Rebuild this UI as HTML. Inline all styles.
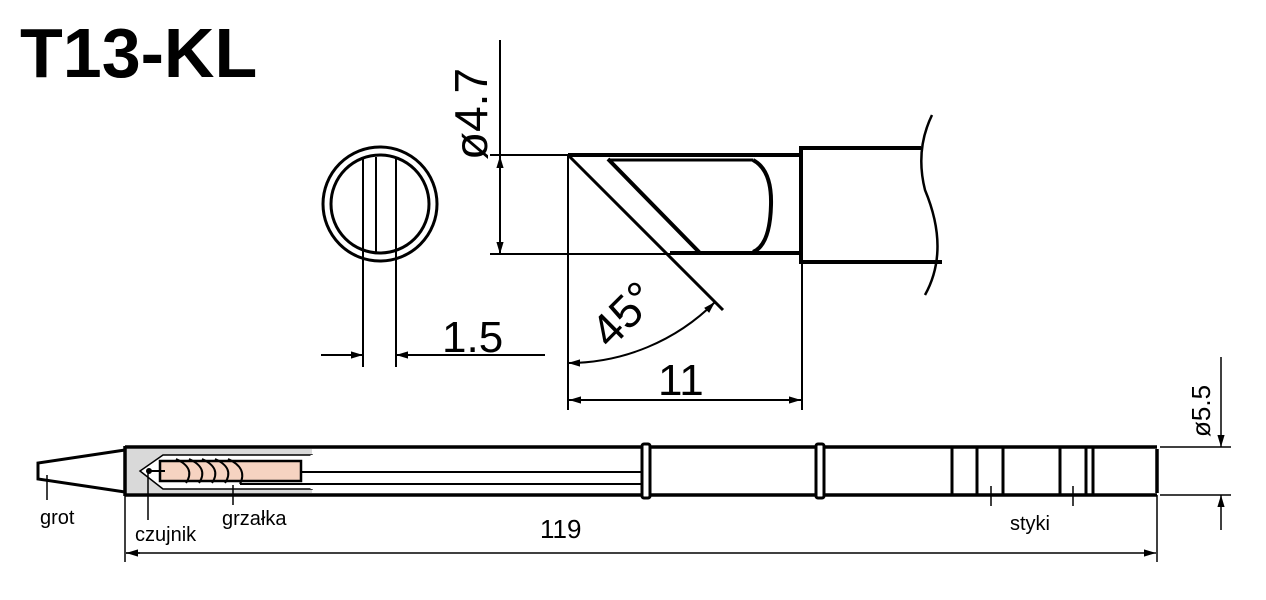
<!DOCTYPE html>
<html><head><meta charset="utf-8"><style>
html,body{margin:0;padding:0;background:#fff;}
svg{display:block;}
text{font-family:"Liberation Sans",sans-serif;fill:#000;}
</style></head><body>
<svg width="1266" height="600" viewBox="0 0 1266 600" xmlns="http://www.w3.org/2000/svg">
<defs>
<marker id="a" viewBox="0 0 10 10" refX="10" refY="5" markerWidth="12" markerHeight="12" markerUnits="userSpaceOnUse" orient="auto-start-reverse"><path d="M0,2 L10,5 L0,8 Z" fill="#000"/></marker>
</defs>
<text x="20" y="77" font-size="70" font-weight="bold">T13-KL</text>

<!-- circle end view -->
<g fill="none" stroke="#000">
<circle cx="380" cy="204" r="57" stroke-width="3"/>
<circle cx="380" cy="204" r="49" stroke-width="3"/>
<line x1="363" y1="157" x2="363" y2="367" stroke-width="2"/>
<line x1="396" y1="157" x2="396" y2="367" stroke-width="2"/>
<line x1="376" y1="157" x2="376" y2="253" stroke-width="2"/>
<line x1="321" y1="355" x2="363" y2="355" stroke-width="2" marker-end="url(#a)"/>
<line x1="545" y1="355" x2="396" y2="355" stroke-width="2" marker-end="url(#a)"/>
</g>
<text x="442" y="352" font-size="44">1.5</text>

<!-- ø4.7 -->
<g fill="none" stroke="#000" stroke-width="2">
<line x1="500" y1="40" x2="500" y2="254"/>
<line x1="500" y1="190" x2="500" y2="156" marker-end="url(#a)"/>
<line x1="500" y1="200" x2="500" y2="254" marker-end="url(#a)"/>
<line x1="490" y1="155" x2="570" y2="155"/>
<line x1="490" y1="254" x2="570" y2="254"/>
</g>
<text transform="translate(487,160) rotate(-90)" font-size="46">ø4.7</text>

<!-- tip side view -->
<g fill="none" stroke="#000">
<line x1="568" y1="155" x2="800" y2="155" stroke-width="4"/>
<line x1="568" y1="254" x2="800" y2="254" stroke-width="2"/>
<line x1="670" y1="253" x2="800" y2="253" stroke-width="4"/>
<line x1="568" y1="155" x2="723" y2="310" stroke-width="3"/>
<line x1="608" y1="159" x2="700" y2="253" stroke-width="4"/>
<line x1="608" y1="160" x2="753" y2="160" stroke-width="3"/>
<path d="M753,160 Q772,170 771,205 Q770,245 753,252" stroke-width="4"/>
<line x1="801" y1="146" x2="801" y2="264" stroke-width="4"/>
<line x1="801" y1="148" x2="921" y2="148" stroke-width="4"/>
<line x1="801" y1="262" x2="942" y2="262" stroke-width="4"/>
<path d="M932,115 Q915,150 925,190 Q950,250 925,295" stroke-width="2.5"/>
<line x1="568" y1="155" x2="568" y2="410" stroke-width="2"/>
<line x1="802" y1="262" x2="802" y2="410" stroke-width="2"/>
<line x1="580" y1="400" x2="569" y2="400" stroke-width="2" marker-end="url(#a)"/>
<line x1="569" y1="400" x2="801" y2="400" stroke-width="2" marker-end="url(#a)"/>
<path d="M568,363 A208,208 0 0 0 715,302" stroke-width="2" marker-start="url(#a)" marker-end="url(#a)"/>
</g>
<text x="658" y="395" font-size="44">11</text>
<text transform="translate(610,350) rotate(-45)" font-size="46">45°</text>

<!-- long tip -->
<g stroke="#000" fill="none">
<path d="M125,450 L85,456 L38,463 L38,479 L85,486 L125,492" stroke-width="3" fill="#fff"/>
<rect x="126" y="449" width="186" height="44" fill="#d9d9d9" stroke="none"/>
<polygon points="163,455 312,455 312,489 163,489 140,471" fill="#fff" stroke-width="1.5"/>
<line x1="312" y1="455" x2="312" y2="489" stroke="#fff" stroke-width="3"/>
<line x1="125" y1="447" x2="1157" y2="447" stroke-width="3.5"/>
<line x1="125" y1="495" x2="1157" y2="495" stroke-width="3.5"/>
<line x1="125" y1="446" x2="125" y2="496" stroke-width="3.5"/>
<line x1="1157" y1="449" x2="1157" y2="493" stroke-width="3.5"/>
<line x1="301" y1="472" x2="642" y2="472" stroke-width="2"/>
<line x1="240" y1="484" x2="642" y2="484" stroke-width="2"/>
<rect x="160" y="461" width="141" height="20" fill="#f6d3c1" stroke-width="2.5"/>
<path d="M176,459 Q196,468 186,483 M189,459 Q209,468 199,483 M202,459 Q222,468 212,483 M215,459 Q235,468 225,483 M228,459 Q248,468 240,484" stroke-width="2"/>
<path d="M165,471 L148,471" stroke-width="2"/>
<circle cx="149" cy="471" r="2.5" fill="#000"/>
<rect x="642" y="444" width="8" height="54" rx="2" fill="#fff" stroke-width="3"/>
<rect x="816" y="444" width="8" height="54" rx="2" fill="#fff" stroke-width="3"/>
<g stroke-width="3">
<line x1="952" y1="447" x2="952" y2="495"/>
<line x1="977" y1="447" x2="977" y2="495"/>
<line x1="1003" y1="447" x2="1003" y2="495"/>
<line x1="1060" y1="447" x2="1060" y2="495"/>
<line x1="1086" y1="447" x2="1086" y2="495"/>
<line x1="1093" y1="447" x2="1093" y2="495"/>
</g>
<g stroke-width="1.5">
<line x1="991" y1="486" x2="991" y2="506"/>
<line x1="1073" y1="486" x2="1073" y2="506"/>
<line x1="47" y1="475" x2="47" y2="500"/>
<line x1="148" y1="472" x2="148" y2="520"/>
<line x1="233" y1="485" x2="233" y2="505"/>
</g>
<g stroke-width="1.5">
<line x1="1160" y1="447" x2="1231" y2="447"/>
<line x1="1160" y1="495" x2="1231" y2="495"/>
<line x1="1221" y1="357" x2="1221" y2="447" marker-end="url(#a)"/>
<line x1="1221" y1="530" x2="1221" y2="495" marker-end="url(#a)"/>
<line x1="125" y1="495" x2="125" y2="562"/>
<line x1="1157" y1="495" x2="1157" y2="562"/>
<line x1="140" y1="553" x2="126" y2="553" marker-end="url(#a)"/>
<line x1="126" y1="553" x2="1156" y2="553" marker-end="url(#a)"/>
</g>
</g>
<text x="40" y="524" font-size="20">grot</text>
<text x="135" y="541" font-size="20">czujnik</text>
<text x="222" y="525" font-size="20">grzałka</text>
<text x="540" y="538" font-size="26">119</text>
<text x="1010" y="530" font-size="20">styki</text>
<text transform="translate(1210,437) rotate(-90)" font-size="26">ø5.5</text>
</svg>
</body></html>
